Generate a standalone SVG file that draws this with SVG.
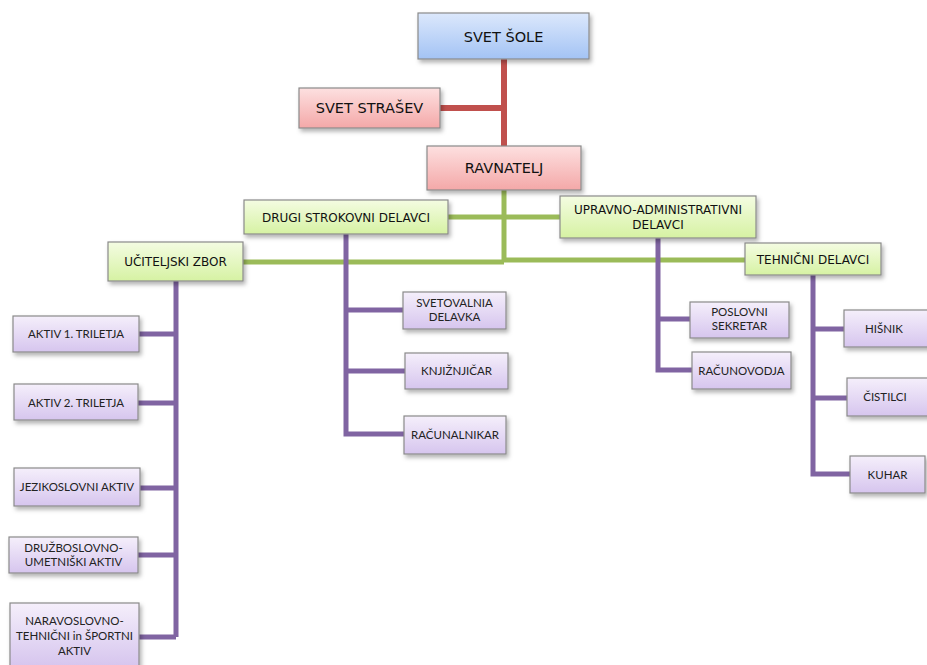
<svg xmlns="http://www.w3.org/2000/svg" width="927" height="665" viewBox="0 0 927 665">
<defs>
<linearGradient id="gBlue" x1="0" y1="0" x2="0" y2="1"><stop offset="0" stop-color="#dce8fc"/><stop offset="1" stop-color="#a3c3f4"/></linearGradient>
<linearGradient id="gRed" x1="0" y1="0" x2="0" y2="1"><stop offset="0" stop-color="#fde0e0"/><stop offset="1" stop-color="#f4a8a8"/></linearGradient>
<linearGradient id="gGreen" x1="0" y1="0" x2="0" y2="1"><stop offset="0" stop-color="#f4fce2"/><stop offset="1" stop-color="#d6f2a3"/></linearGradient>
<linearGradient id="gPurple" x1="0" y1="0" x2="0" y2="1"><stop offset="0" stop-color="#f5effb"/><stop offset="1" stop-color="#d6c5ee"/></linearGradient>
<filter id="sh" x="-10%" y="-20%" width="130%" height="160%"><feDropShadow dx="2" dy="3" stdDeviation="2" flood-color="#000" flood-opacity="0.3"/></filter>
</defs>
<style>
.box{stroke:#8a8a8a;stroke-width:1.2;filter:url(#sh)}
.blue{fill:url(#gBlue)}.red{fill:url(#gRed)}.green{fill:url(#gGreen)}.purple{fill:url(#gPurple)}
.t1{font-family:"DejaVu Sans",sans-serif;font-size:14.5px;fill:#111;text-anchor:middle}
.t2{font-family:"DejaVu Sans",sans-serif;font-size:12px;fill:#111;text-anchor:middle}
.t3{font-family:Lato,"Open Sans",sans-serif;font-size:11.5px;fill:#222;text-anchor:middle}
.cr{stroke:#c0504d;stroke-width:6;fill:none}
.cg{stroke:#9bbb59;stroke-width:5;fill:none}
.cp{stroke:#8064a2;stroke-width:5;fill:none}
</style>
<g id="connectors">
<path class="cr" d="M504 59V146M440 108H504"/>
<path class="cg" d="M504 190V262M448 217H560M243 262H504M504 260H745"/>
<path class="cp" d="M176 281V637M139 334H176M138 403H176M140 488H176M138 555H176M139 637H176"/>
<path class="cp" d="M346 234V434H404M346 310H403M346 371H405"/>
<path class="cp" d="M658 238V370H692M658 319H690"/>
<path class="cp" d="M813 275V474H850M813 329H844M813 398H847"/>
</g>
<g id="svet-sole"><rect class="box blue" x="418" y="13" width="171" height="46"/><text class="t1" x="503.5" y="41.5">SVET ŠOLE</text></g>
<g id="svet-starsev"><rect class="box red" x="299" y="88" width="141" height="40"/><text class="t1" x="369.5" y="113">SVET STRAŠEV</text></g>
<g id="ravnatelj"><rect class="box red" x="427" y="146" width="154" height="44"/><text class="t1" x="504" y="173">RAVNATELJ</text></g>
<g id="drugi"><rect class="box green" x="244" y="200" width="204" height="34"/><text class="t2" x="346" y="221.5">DRUGI STROKOVNI DELAVCI</text></g>
<g id="upravno"><rect class="box green" x="560" y="196" width="196" height="42"/><text class="t2" x="658" y="214">UPRAVNO-ADMINISTRATIVNI</text><text class="t2" x="658" y="229">DELAVCI</text></g>
<g id="uciteljski"><rect class="box green" x="108" y="242" width="135" height="39"/><text class="t2" x="175.5" y="266">UČITELJSKI ZBOR</text></g>
<g id="tehnicni"><rect class="box green" x="745" y="243" width="136" height="32"/><text class="t2" x="813" y="263.5">TEHNIČNI DELAVCI</text></g>
<g id="aktiv1"><rect class="box purple" x="13" y="316" width="126" height="36"/><text class="t3" x="76" y="338">AKTIV 1. TRILETJA</text></g>
<g id="aktiv2"><rect class="box purple" x="14" y="384" width="124" height="36"/><text class="t3" x="76" y="406.5">AKTIV 2. TRILETJA</text></g>
<g id="jezikoslovni"><rect class="box purple" x="14" y="468" width="126" height="38"/><text class="t3" x="77" y="491">JEZIKOSLOVNI AKTIV</text></g>
<g id="druzboslovno"><rect class="box purple" x="9" y="537" width="129" height="36"/><text class="t3" x="73.5" y="552">DRUŽBOSLOVNO-</text><text class="t3" x="73.5" y="566">UMETNIŠKI AKTIV</text></g>
<g id="naravoslovno"><rect class="box purple" x="10" y="603" width="129" height="64"/><text class="t3" x="74.5" y="625">NARAVOSLOVNO-</text><text class="t3" x="74.5" y="640">TEHNIČNI in ŠPORTNI</text><text class="t3" x="74.5" y="655">AKTIV</text></g>
<g id="svetovalnia"><rect class="box purple" x="403" y="292" width="103" height="37"/><text class="t3" x="454.5" y="307">SVETOVALNIA</text><text class="t3" x="454.5" y="321">DELAVKA</text></g>
<g id="knjiznjicar"><rect class="box purple" x="405" y="353" width="103" height="36"/><text class="t3" x="456.5" y="375">KNJIŽNJIČAR</text></g>
<g id="racunalnikar"><rect class="box purple" x="404" y="416" width="102" height="38"/><text class="t3" x="455" y="439">RAČUNALNIKAR</text></g>
<g id="poslovni"><rect class="box purple" x="690" y="302" width="99" height="36"/><text class="t3" x="739.5" y="316">POSLOVNI</text><text class="t3" x="739.5" y="330">SEKRETAR</text></g>
<g id="racunovodja"><rect class="box purple" x="692" y="352" width="99" height="37"/><text class="t3" x="741.5" y="374.5">RAČUNOVODJA</text></g>
<g id="hisnik"><rect class="box purple" x="844" y="310" width="90" height="37"/><text class="t3" x="884" y="332.5">HIŠNIK</text></g>
<g id="cistilci"><rect class="box purple" x="847" y="378" width="90" height="38"/><text class="t3" x="885" y="401">ČISTILCI</text></g>
<g id="kuhar"><rect class="box purple" x="850" y="456" width="75" height="37"/><text class="t3" x="887.5" y="478.5">KUHAR</text></g>
</svg>
